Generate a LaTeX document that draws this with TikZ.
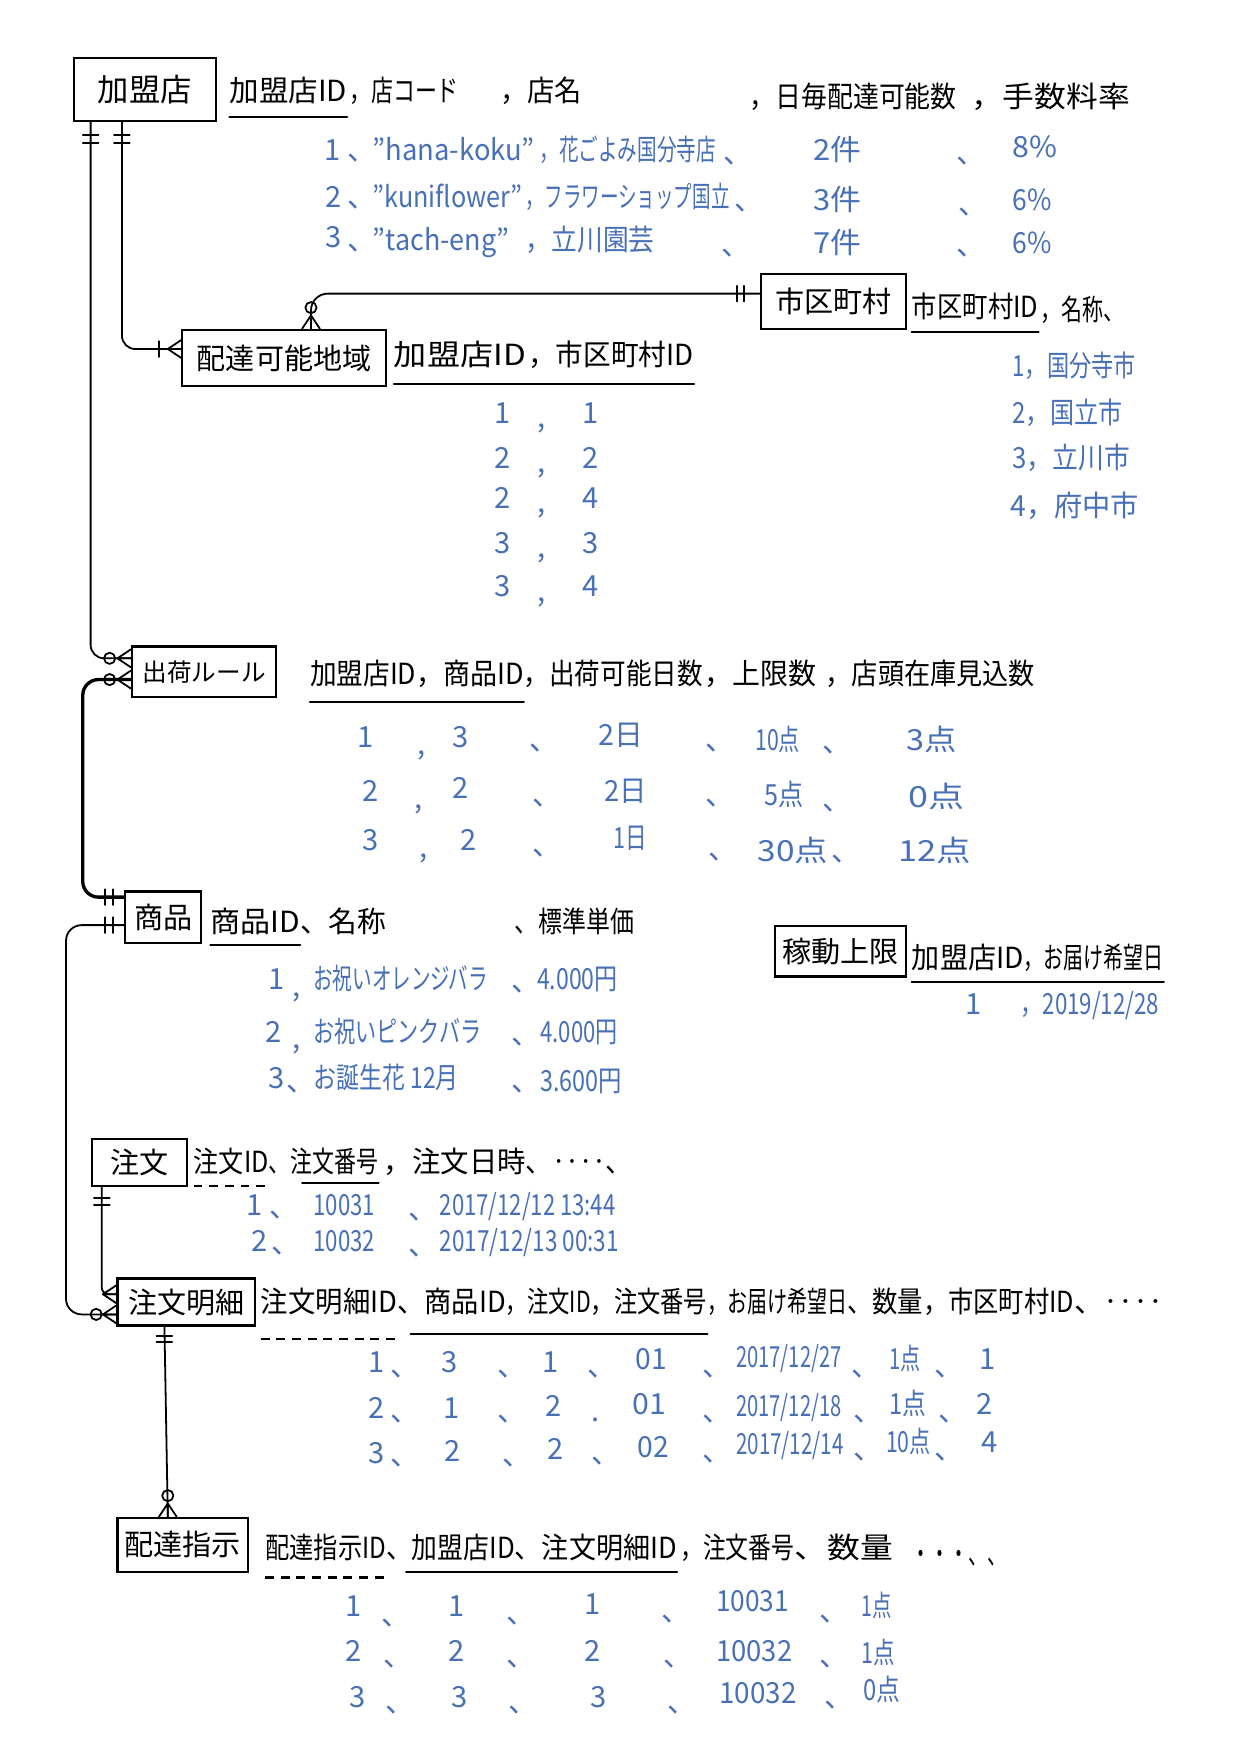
\documentclass[tikz,border=0pt]{standalone}
\usepackage{fontspec}
\setmainfont{Noto Sans CJK JP}
\usepackage{graphicx}
\definecolor{ink}{RGB}{72,112,182}
\newcounter{tn}
\newcommand{\hdseg}[5]{\node[hd] (#1) at (#2,#4) {\resizebox{\dimexpr#3pt-#2pt\relax}{\height}{#5}};}
\newcommand{\dtseg}[4]{\stepcounter{tn}\node[dt] (d\arabic{tn}) at (#1,#3) {\resizebox{\dimexpr#2pt-#1pt\relax}{\height}{#4}};}
\newcommand{\dtc}[3]{\stepcounter{tn}\node[dt,anchor=center] (d\arabic{tn}) at (#1,#2) {#3};}
\tikzset{
 hd/.style={anchor=west, inner sep=0pt, font=\fontsize{26}{30}\selectfont, text height=22pt, text depth=5pt},
 dt/.style={anchor=west, inner sep=0pt, text=ink, font=\fontsize{26}{30}\selectfont, text height=22pt, text depth=5pt},
 ent/.style={draw, line width=2pt, inner sep=0pt, font=\fontsize{26}{30}\selectfont},
 conn/.style={line width=1.6pt, line cap=round, line join=round},
 ul/.style={line width=1.8pt, line cap=round},
 dul/.style={line width=1.8pt, dash pattern=on 8pt off 6pt},
 tickh/.pic={\draw[conn] (-7,0) -- (7,0);},
 tickv/.pic={\draw[conn] (0,-7) -- (0,7);},
 crowE/.pic={\draw[conn] (-12,0) -- (0,-8) (-12,0) -- (0,0) (-12,0) -- (0,8);},
 crowS/.pic={\draw[conn] (0,-12) -- (-8,0) (0,-12) -- (0,0) (0,-12) -- (8,0);},
 ring/.pic={\draw[conn] (0,0) circle[radius=5pt];},
}
\begin{document}
\begin{tikzpicture}[x=1pt,y=-1pt]
\fill[white] (0,0) rectangle (1108,1568);
\useasboundingbox (0,0) rectangle (1108,1568);

% ---------- entities ----------
\node[ent, font=\fontsize{28}{32}\selectfont, minimum width=127pt, minimum height=56pt] (kamei) at (129.5,80) {加盟店};
\node[ent, minimum width=130pt, minimum height=49pt] (shiku) at (745,269.5) {市区町村};
\node[ent, minimum width=182pt, minimum height=50pt] (haitatsu) at (254,320) {配達可能地域};
\node[ent, font=\fontsize{22}{26}\selectfont, minimum width=129pt, minimum height=45pt] (shukka) at (182.5,600.5) {出荷ルール};
\node[ent, minimum width=68pt, minimum height=46pt] (shohin) at (146,820) {商品};
\node[ent, minimum width=117pt, minimum height=45pt] (kado) at (751.5,850.5) {稼動上限};
\node[ent, minimum width=85pt, minimum height=42pt] (chumon) at (124.5,1039) {注文};
\node[ent, minimum width=123pt, minimum height=42pt] (meisai) at (166.5,1164) {注文明細};
\node[ent, minimum width=117pt, minimum height=48pt] (haishi) at (163.5,1381) {配達指示};

% ---------- 加盟店 ----------
\hdseg{k1}{205}{310}{82}{加盟店ID}
\hdseg{k2}{312}{410}{82}{，店コード}
\hdseg{k3}{447}{520}{82}{，店名}
\hdseg{k4}{670}{855}{88}{，日毎配達可能数}
\hdseg{k5}{868}{1010}{88}{，手数料率}
\draw[ul] ([yshift=-8.5pt]k1.south west) -- ([yshift=-8.5pt]k1.south east);

\dtc{297}{135}{1} \dtc{324}{135}{、} \dtseg{333}{478}{135}{"hana-koku"} \dtseg{482}{640}{135}{，花ごよみ国分寺店} \dtc{660}{138}{、}
\dtseg{727}{770}{135}{2件} \dtc{868}{138}{、} \dtseg{905}{945}{132}{8\%}
\dtc{298}{177}{2} \dtc{324}{177}{、} \dtseg{333}{467}{177}{"kuniflower"} \dtseg{470}{652}{177}{，フラワーショップ国立} \dtc{670}{180}{、}
\dtseg{727}{770}{180}{3件} \dtc{870}{183}{、} \dtseg{905}{940}{180}{6\%}
\dtc{298}{213}{3} \dtc{324}{215}{、} \dtseg{333}{455}{215}{"tach-eng"} \dtseg{470}{585}{215}{，立川園芸} \dtc{658}{220}{、}
\dtseg{727}{770}{218}{7件} \dtc{868}{220}{、} \dtseg{905}{940}{218}{6\%}

% ---------- 市区町村 ----------
\hdseg{s1}{815}{928}{275}{市区町村ID}
\hdseg{s2}{930}{1005}{278}{，名称、}
\draw[ul] ([yshift=-8.5pt]s1.south west) -- ([yshift=-8.5pt]s1.south east);
\dtseg{905}{1015}{328}{1，国分寺市}
\dtseg{905}{1003}{370}{2，国立市}
\dtseg{905}{1010}{410}{3，立川市}
\dtseg{903}{1018}{453}{4，府中市}

% ---------- 配達可能地域 ----------
\hdseg{c1}{352}{470}{318}{加盟店ID}
\hdseg{c2}{472}{620}{318}{，市区町村ID}
\draw[ul] ([yshift=-11.5pt]c1.south west) -- ([yshift=-11.5pt]c2.south east);
\foreach \yy/\aa/\bb in {370/1/1, 410/2/2, 446/2/4, 486/3/3, 525/3/4}{
  \dtc{449}{\yy}{\aa} \dtc{484}{\yy+4}{,} \dtc{528}{\yy}{\bb}
}

% ---------- 出荷ルール ----------
\hdseg{u1}{277}{372}{603}{加盟店ID}
\hdseg{u2}{372}{468}{603}{，商品ID}
\hdseg{u3}{468}{628}{603}{，出荷可能日数}
\hdseg{u4}{630}{730}{603}{，上限数}
\hdseg{u5}{738}{925}{603}{，店頭在庫見込数}
\draw[ul] ([yshift=-10.5pt]u1.south west) -- ([yshift=-10.5pt]u2.south east);

\dtc{327}{660}{1} \dtc{377}{666}{,} \dtc{412}{660}{3} \dtc{486}{662}{、} \dtseg{535}{575}{658}{2日} \dtc{644}{662}{、} \dtseg{675}{715}{662}{10点} \dtc{748}{664}{、} \dtseg{810}{855}{662}{3点}
\dtc{331}{708}{2} \dtc{374}{714}{,} \dtc{412}{705}{2} \dtc{489}{712}{、} \dtseg{540}{578}{708}{2日} \dtc{644}{712}{、} \dtseg{683}{718}{712}{5点} \dtc{748}{716}{、} \dtseg{812}{862}{713}{0点}
\dtc{331}{752}{3} \dtc{379}{758}{,} \dtc{419}{752}{2} \dtc{489}{756}{、} \dtseg{548}{578}{750}{1日} \dtc{646}{760}{、} \dtseg{677}{740}{762}{30点} \dtc{756}{762}{、} \dtseg{803}{868}{762}{12点}

% ---------- 商品 ----------
\hdseg{p1}{188}{268}{825}{商品ID}
\hdseg{p2}{268}{345}{825}{、名称}
\hdseg{p3}{460}{567}{825}{、標準単価}
\draw[ul] ([yshift=-6.5pt]p1.south west) -- ([yshift=-6.5pt]p1.south east);

\dtc{247}{876}{1} \dtc{265}{882}{,} \dtseg{280}{436}{876}{お祝いオレンジバラ} \dtc{470}{878}{、} \dtseg{480}{552}{876}{4.000円}
\dtc{245}{923}{2} \dtc{265}{929}{,} \dtseg{280}{430}{923}{お祝いピンクバラ} \dtc{470}{925}{、} \dtseg{483}{552}{923}{4.000円}
\dtc{247}{965}{3} \dtc{269}{967}{、} \dtseg{280}{410}{965}{お誕生花 12月} \dtc{470}{967}{、} \dtseg{483}{556}{967}{3.600円}

% ---------- 稼動上限 ----------
\hdseg{g1}{815}{915}{857}{加盟店ID}
\hdseg{g2}{915}{1040}{857}{，お届け希望日}
\draw[ul] ([yshift=-7.5pt]g1.south west) -- ([yshift=-7.5pt]g2.south east);
\dtc{870}{898}{1} \dtseg{912}{1036}{898}{，2019/12/28}

% ---------- 注文 ----------
\hdseg{o1}{173}{240}{1040}{注文ID}
\hdseg{o2}{240}{338}{1040}{、注文番号}
\hdseg{o3}{343}{470}{1040}{，注文日時}
\hdseg{o4}{470}{565}{1040}{、‥‥、}
\draw[dul] ([yshift=-6.5pt]o1.south west) -- ([yshift=-6.5pt]o1.south east);
\draw[ul] ([xshift=30pt,yshift=-3.5pt]o2.south west) -- ([yshift=-3.5pt]o2.south east);

\dtc{228}{1078}{1} \dtc{254}{1080}{、} \dtseg{280}{335}{1078}{10031} \dtc{378}{1082}{、} \dtseg{393}{550}{1078}{2017/12/12 13:44}
\dtc{232}{1110}{2} \dtc{256}{1112}{、} \dtseg{280}{335}{1110}{10032} \dtc{378}{1114}{、} \dtseg{393}{553}{1110}{2017/12/13 00:31}

% ---------- 注文明細 ----------
\hdseg{m1}{233}{355}{1165}{注文明細ID}
\hdseg{m2}{355}{452}{1165}{、商品ID}
\hdseg{m3}{452}{528}{1165}{，注文ID}
\hdseg{m4}{528}{632}{1165}{，注文番号}
\hdseg{m5}{632}{757}{1165}{，お届け希望日}
\hdseg{m6}{757}{825}{1165}{、数量}
\hdseg{m7}{825}{960}{1165}{，市区町村ID}
\hdseg{m8}{960}{1040}{1165}{、‥‥}
\draw[dul] ([yshift=-18.5pt]m1.south west) -- ([yshift=-18.5pt]m1.south east);
\draw[ul] ([xshift=12pt,yshift=-13.5pt]m2.south west) -- ([yshift=-13.5pt]m4.south east);

\dtc{337}{1218}{1} \dtc{362}{1222}{、} \dtc{402}{1218}{3} \dtc{458}{1222}{、} \dtc{492}{1218}{1} \dtc{538}{1222}{、} \dtseg{568}{596}{1216}{01} \dtc{641}{1222}{、} \dtseg{658}{752}{1214}{2017/12/27} \dtc{774}{1222}{、} \dtseg{795}{823}{1216}{1点} \dtc{848}{1222}{、} \dtc{883}{1216}{1}
\dtc{337}{1260}{2} \dtc{362}{1262}{、} \dtc{404}{1260}{1} \dtc{458}{1262}{、} \dtc{495}{1258}{2} \dtc{532}{1262}{.} \dtseg{565}{595}{1256}{01} \dtc{641}{1262}{、} \dtseg{658}{752}{1258}{2017/12/18} \dtc{776}{1262}{、} \dtseg{795}{828}{1256}{1点} \dtc{852}{1262}{、} \dtc{880}{1256}{2}
\dtc{337}{1300}{3} \dtc{362}{1302}{、} \dtc{405}{1298}{2} \dtc{462}{1302}{、} \dtc{497}{1296}{2} \dtc{542}{1300}{、} \dtseg{570}{598}{1294}{02} \dtc{641}{1298}{、} \dtseg{658}{754}{1292}{2017/12/14} \dtc{776}{1296}{、} \dtseg{792}{832}{1290}{10点} \dtc{848}{1296}{、} \dtc{885}{1290}{4}

% ---------- 配達指示 ----------
\hdseg{i1}{237}{345}{1385}{配達指示ID}
\hdseg{i2}{345}{460}{1385}{、加盟店ID}
\hdseg{i3}{460}{605}{1385}{、注文明細ID}
\hdseg{i4}{608}{710}{1385}{，注文番号}
\hdseg{i5}{710}{798}{1385}{、数量}
\hdseg{i6}{815}{900}{1390}{・・・、、}
\draw[dul] ([yshift=-11.5pt]i1.south west) -- ([yshift=-11.5pt]i1.south east);
\draw[ul] ([xshift=18pt,yshift=-6.5pt]i2.south west) -- ([yshift=-6.5pt]i3.south east);

\dtc{316}{1437}{1} \dtc{354}{1445}{、} \dtc{408}{1437}{1} \dtc{466}{1443}{、} \dtc{530}{1435}{1} \dtc{604}{1441}{、} \dtseg{640}{705}{1432}{10031} \dtc{746}{1441}{、} \dtseg{770}{797}{1437}{1点}
\dtc{316}{1477}{2} \dtc{356}{1481}{、} \dtc{408}{1477}{2} \dtc{466}{1481}{、} \dtc{530}{1477}{2} \dtc{606}{1481}{、} \dtseg{640}{708}{1477}{10032} \dtc{746}{1481}{、} \dtseg{770}{800}{1479}{1点}
\dtc{320}{1518}{3} \dtc{358}{1522}{、} \dtc{411}{1518}{3} \dtc{468}{1522}{、} \dtc{535}{1518}{3} \dtc{610}{1522}{、} \dtseg{643}{712}{1514}{10032} \dtc{750}{1518}{、} \dtseg{772}{805}{1512}{0点}

% ---------- connectors ----------
% 加盟店 -> 配達可能地域
\draw[conn, rounded corners=12pt] ([xshift=44pt]kamei.south west) |- ([yshift=8pt]haitatsu.west);
\pic at ([xshift=44pt,yshift=-12pt]kamei.south west) {tickh};
\pic at ([xshift=44pt,yshift=-19pt]kamei.south west) {tickh};
\pic at ([xshift=-20pt,yshift=8pt]haitatsu.west) {tickv};
\pic at ([yshift=8pt]haitatsu.west) {crowE};

% 加盟店 -> 出荷ルール
\draw[conn, rounded corners=12pt] ([xshift=16pt]kamei.south west) |- ([yshift=12pt]shukka.west);
\pic at ([xshift=16pt,yshift=-12pt]kamei.south west) {tickh};
\pic at ([xshift=16pt,yshift=-19pt]kamei.south west) {tickh};
\pic at ([xshift=-19pt,yshift=12pt]shukka.west) {ring};
\pic at ([yshift=12pt]shukka.west) {crowE};

% 商品 -> 出荷ルール
\draw[conn, line width=3pt, rounded corners=14pt] ([yshift=-7pt]shukka.west) -| ([xshift=-37pt,yshift=18pt]shohin.west) -- ([yshift=18pt]shohin.west);
\pic at ([xshift=-19pt,yshift=-7pt]shukka.west) {ring};
\pic at ([yshift=-7pt]shukka.west) {crowE};
\pic at ([xshift=-10pt,yshift=18pt]shohin.west) {tickv};
\pic at ([xshift=-17pt,yshift=18pt]shohin.west) {tickv};

% 市区町村 -> 配達可能地域
\draw[conn, rounded corners=15pt] ([yshift=7pt]shiku.west) -| ([xshift=24pt]haitatsu.north);
\pic at ([xshift=-14pt,yshift=7pt]shiku.west) {tickv};
\pic at ([xshift=-20pt,yshift=7pt]shiku.west) {tickv};
\pic at ([xshift=24pt,yshift=19pt]haitatsu.north) {ring};
\pic at ([xshift=24pt]haitatsu.north) {crowS};

% 商品 -> 注文明細
\draw[conn, rounded corners=14pt] ([yshift=-7pt]shohin.west) -| ([xshift=-45pt,yshift=-11pt]meisai.west) -- ([yshift=-11pt]meisai.west);
\pic at ([xshift=-10pt,yshift=-7pt]shohin.west) {tickv};
\pic at ([xshift=-17pt,yshift=-7pt]shohin.west) {tickv};
\pic at ([xshift=-18pt,yshift=-11pt]meisai.west) {ring};
\pic at ([yshift=-11pt]meisai.west) {crowE};

% 注文 -> 注文明細
\draw[conn, rounded corners=6pt] ([xshift=10pt]chumon.south west) |- ([yshift=7pt]meisai.west);
\pic at ([xshift=10pt,yshift=-10pt]chumon.south west) {tickh};
\pic at ([xshift=10pt,yshift=-16pt]chumon.south west) {tickh};
\pic at ([yshift=7pt]meisai.west) {crowE};

% 注文明細 -> 配達指示
\draw[conn] ([xshift=-19.5pt]meisai.south) -- ([xshift=-13.5pt]haishi.north);
\pic at ([xshift=-19.5pt,yshift=-8pt]meisai.south) {tickh};
\pic at ([xshift=-19.5pt,yshift=-14pt]meisai.south) {tickh};
\pic at ([xshift=-13.5pt,yshift=19pt]haishi.north) {ring};
\pic at ([xshift=-13.5pt]haishi.north) {crowS};
\end{tikzpicture}
\end{document}
